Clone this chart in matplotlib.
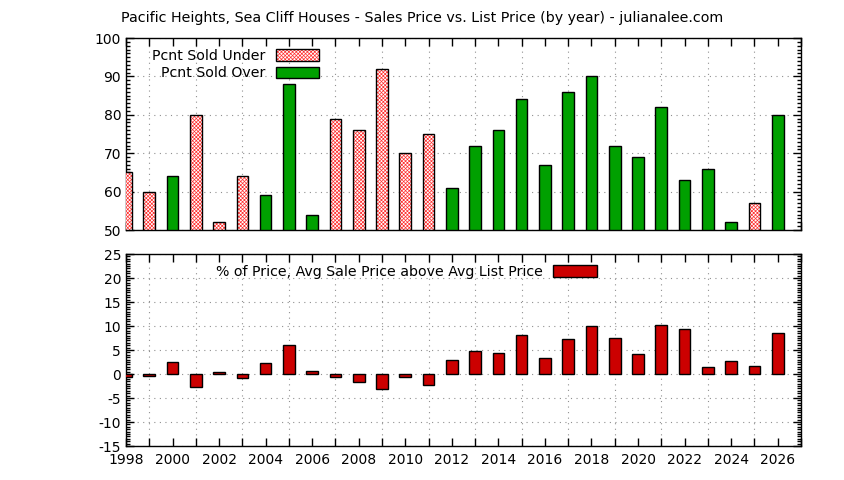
import matplotlib
matplotlib.use("Agg")
import matplotlib.pyplot as plt
from matplotlib.patches import Patch
from matplotlib.legend_handler import HandlerTuple
from matplotlib.ticker import MultipleLocator

# one entry per year, 1998 .. 2026
years = list(range(1998, 2027))
pcnt_sold = [65, 60, 64, 80, 52, 64, 59, 88, 54, 79, 76, 92, 70, 75, 61,
             72, 76, 84, 67, 86, 90, 72, 69, 82, 63, 66, 52, 57, 80]
# True = more sold over list, False = more sold under list
sold_over = [False, False, True, False, False, False, True, True, True, False,
             False, False, False, False, True, True, True, True, True, True,
             True, True, True, True, True, True, True, False, True]
pct_above_list = [-0.6, -0.4, 2.5, -2.7, 0.4, -0.8, 2.3, 6.1, 0.6, -0.6,
                  -1.7, -3.1, -0.6, -2.3, 2.9, 4.8, 4.4, 8.2, 3.4, 7.3,
                  10.1, 7.6, 4.2, 10.3, 9.4, 1.5, 2.7, 1.7, 8.6]

title = "Pacific Heights, Sea Cliff Houses - Sales Price vs. List Price (by year) - julianalee.com"

plt.rcParams['font.family'] = ['DejaVu Sans']
plt.rcParams['font.size'] = 10
plt.rcParams['axes.unicode_minus'] = False
plt.rcParams['hatch.linewidth'] = 0.5

GREEN = '#00a000'
RED = '#cc0000'
PINK = '#ff3030'
HATCH = 'xxxxxxxxx'
W = 0.5

fig = plt.figure(figsize=(8.44, 4.80), dpi=100)
ax1 = fig.add_axes([0.1493, 0.5208, 0.7997, 0.4])
ax2 = fig.add_axes([0.1493, 0.0708, 0.7997, 0.4])
fig.text(0.5, 0.9625, title, ha='center', va='center', fontsize=10.3)

under_x = [y for y, o in zip(years, sold_over) if not o]
under_v = [v for v, o in zip(pcnt_sold, sold_over) if not o]
over_x = [y for y, o in zip(years, sold_over) if o]
over_v = [v for v, o in zip(pcnt_sold, sold_over) if o]

# hatched pink bars: hatch layer + black outline
ax1.bar(under_x, [v - 50 for v in under_v], bottom=50, width=W, facecolor='white',
        edgecolor=PINK, hatch=HATCH, linewidth=0, zorder=3)
ax1.bar(under_x, [v - 50 for v in under_v], bottom=50, width=W, facecolor='none',
        edgecolor='black', linewidth=1, zorder=4)
ax1.bar(over_x, [v - 50 for v in over_v], bottom=50, width=W, facecolor=GREEN,
        edgecolor='black', linewidth=1, zorder=4)

ax2.bar(years, pct_above_list, width=W, facecolor=RED, edgecolor='black',
        linewidth=1, zorder=4)

for ax in (ax1, ax2):
    ax.set_xlim(1998, 2027)
    ax.xaxis.set_major_locator(MultipleLocator(2))
    ax.xaxis.set_minor_locator(MultipleLocator(1))
    ax.tick_params(which='both', direction='in', top=True, right=True,
                   width=1, labelsize=10)
    ax.tick_params(which='major', length=6)
    ax.tick_params(which='minor', length=3)
    ax.tick_params(axis='x', which='minor', length=6)
    for s in ax.spines.values():
        s.set_linewidth(1)
    # gnuplot style dotted grid: horizontal on major y, vertical on odd years
    ax.grid(True, axis='y', which='major', linestyle=(0, (1, 4)), color='#909090',
            linewidth=0.8, zorder=1)
    ax.grid(True, axis='x', which='minor', linestyle=(0, (1, 4)), color='#909090',
            linewidth=0.8, zorder=1)

ax1.set_ylim(50, 100)
ax1.yaxis.set_major_locator(MultipleLocator(10))
ax1.yaxis.set_minor_locator(MultipleLocator(1))
ax1.tick_params(axis='x', labelbottom=False)

ax2.set_ylim(-15, 25)
ax2.yaxis.set_major_locator(MultipleLocator(5))
ax2.yaxis.set_minor_locator(MultipleLocator(0.5))
ax2.tick_params(axis='x', pad=5)

h_under = (Patch(facecolor='white', edgecolor=PINK, hatch=HATCH, linewidth=0),
           Patch(facecolor='none', edgecolor='black', linewidth=1))
h_over = Patch(facecolor=GREEN, edgecolor='black', linewidth=1)
leg1 = ax1.legend([h_under, h_over], ["Pcnt Sold Under", "Pcnt Sold Over"],
                  handler_map={tuple: HandlerTuple(ndivide=1, pad=0)},
                  loc='upper left', bbox_to_anchor=(0.02, 1.01), frameon=False,
                  markerfirst=False, handlelength=3.1, handleheight=0.9,
                  labelspacing=0.25, handletextpad=0.7, fontsize=10.2)
leg1.set_zorder(6)
h_pct = Patch(facecolor=RED, edgecolor='black', linewidth=1)
leg2 = ax2.legend([h_pct], ["% of Price, Avg Sale Price above Avg List Price"],
                  loc='upper left', bbox_to_anchor=(0.115, 1.008), frameon=False,
                  markerfirst=False, handlelength=3.1, handleheight=0.9,
                  handletextpad=0.7, fontsize=10.2)
leg2.set_zorder(6)

fig.savefig("out.png", dpi=100)
